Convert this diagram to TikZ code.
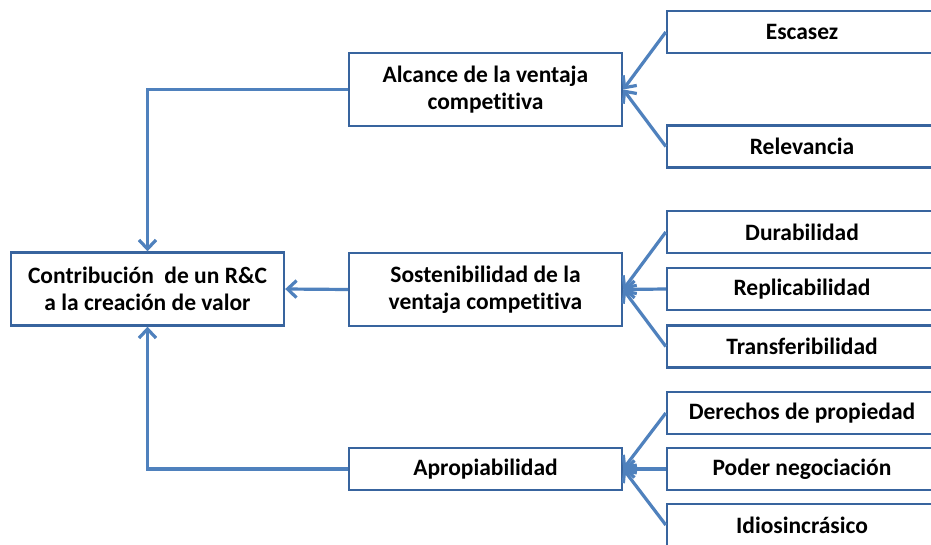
\documentclass[tikz,border=0pt]{standalone}
\usepackage{fontspec}
\setmainfont{Carlito}[Ligatures=NoCommon]
\usetikzlibrary{arrows.meta}
\definecolor{boxblue}{RGB}{56,100,158}
\definecolor{linkblue}{RGB}{79,129,189}
\begin{document}
\begin{tikzpicture}[x=1pt,y=-1pt,
  box/.style={draw=boxblue, line width=2.4pt, fill=white, align=center,
    font=\bfseries\fontsize{23.5}{27}\selectfont, inner sep=0pt, text=black},
  bigbox/.style={box, minimum width=273pt, minimum height=73pt},
  midbox/.style={box, minimum width=273pt},
  leaf/.style={box, minimum width=270pt, minimum height=42pt},
  link/.style={draw=linkblue, line width=3.2pt, -{Straight Barb[length=9pt,width=17pt]}}]
\useasboundingbox (0,0) rectangle (931,545);
\clip (0,0) rectangle (931,545);
\fill[white] (0,0) rectangle (931,545);
% main nodes
\node[bigbox] (val) at (147.5,289) {Contribución\ \ de un R\&C\\a la creación de valor};
\node[midbox, minimum height=73pt] (alc) at (485.5,89.5) {Alcance de la ventaja\\competitiva};
\node[midbox, minimum height=73pt] (sos) at (485.5,289.5) {Sostenibilidad de la\\ventaja competitiva};
\node[midbox, minimum height=42pt] (apr) at (485.5,469) {Apropiabilidad};
% leaves
\node[leaf] (esc) at (802,32) {Escasez};
\node[leaf] (rel) at (802,146.5) {Relevancia};
\node[leaf] (dur) at (802,232) {Durabilidad};
\node[leaf] (rep) at (802,289) {Replicabilidad};
\node[leaf] (tra) at (802,346.5) {Transferibilidad};
\node[leaf] (der) at (802,413) {Derechos de propiedad};
\node[leaf] (pod) at (802,469) {Poder negociación};
\node[leaf] (idi) at (802,525) {Idiosincrásico};
% connectors
\draw[link] (esc.west) -- (alc.east);
\draw[link] (rel.west) -- (alc.east);
\draw[link] (dur.west) -- (sos.east);
\draw[link] (rep.west) -- (sos.east);
\draw[link] (tra.west) -- (sos.east);
\draw[link] (der.west) -- (apr.east);
\draw[link] (pod.west) -- (apr.east);
\draw[link] (idi.west) -- (apr.east);
\draw[link] (alc.west) -| (val.north);
\draw[link] (sos.west) -- (val.east);
\draw[link] (apr.west) -| (val.south);
\end{tikzpicture}
\end{document}
